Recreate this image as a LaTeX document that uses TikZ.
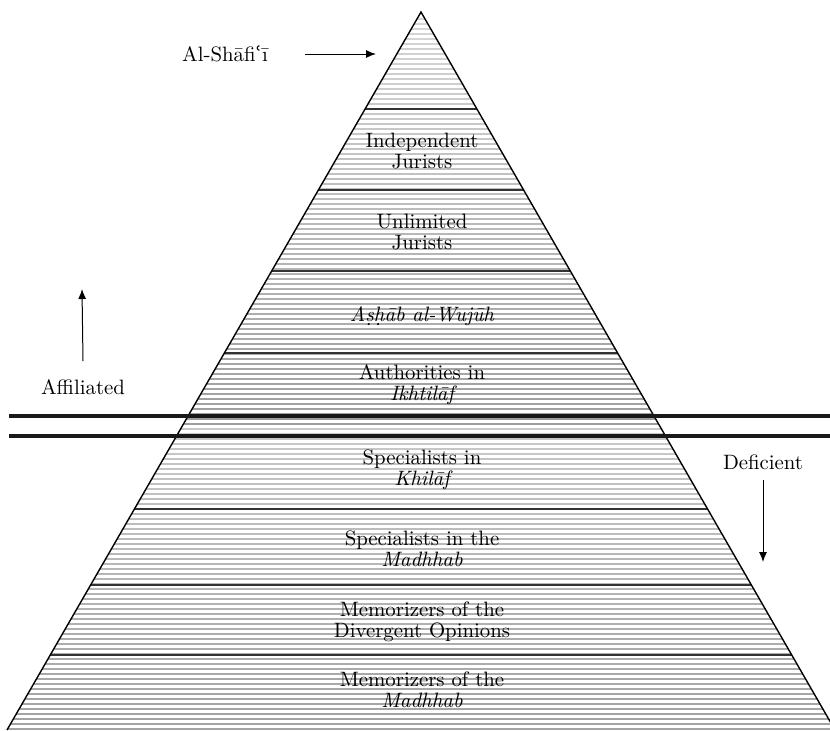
\documentclass[tikz,border=0pt]{standalone}
\usepackage{fontspec}
\newfontfamily\ainfont{DejaVu Serif}
\usetikzlibrary{arrows.meta}

\begin{document}
\begin{tikzpicture}[
			x=0.5pt, y=-0.5pt,
			rank/.style = {align=center, font=\fontsize{10.4}{10.5}\selectfont, inner sep=1pt},
			side/.style = {font=\fontsize{10.4}{12}\selectfont, inner sep=1pt},
			tier/.style = {line width=0.9pt, black!80},
			divide/.style = {line width=2pt, black!90},
			arr/.style = {-{Latex[length=5pt,width=4pt]}, line width=0.5pt}
		]
		\useasboundingbox (0,0) rectangle (830,730);
		\coordinate (apex) at (421,12);
		\coordinate (bl) at (7,730);
		\coordinate (br) at (835,730);
		% stripes and tiers
		\begin{scope}
			\clip (apex) -- (bl) -- (br) -- cycle;
			\foreach \y in {14,19,...,734} {
				\pgfmathtruncatemacro\shade{\y<426 ? 16+(\y-12)/404*22 : 22+(\y-436)/294*15}
				\draw[black!\shade, line width=1.2pt] (0,\y) -- (840,\y);
			}
			\foreach \y in {109,190,271,353,509,585,655}
				\draw[tier] (0,\y) -- (840,\y);
		\end{scope}
		\draw[line width=0.7pt] (bl) -- (apex) -- (br);
		\draw[divide] (9,416) -- (830,416);
		\draw[divide] (9,436) -- (830,436);
		% ranks
		\node[rank] (indep) at (422,151) {Independent\\Jurists};
		\node[rank] (unlim) at (422,232) {Unlimited\\Jurists};
		\node[rank] (ashab) at (422,316) {\itshape Aṣḥāb al-Wujūh};
		\node[rank] (ikht) at (422,385) {Authorities in\\\itshape Ikhtilāf};
		\node[rank] (khilaf) at (422,470) {Specialists in\\\itshape Khilāf};
		\node[rank] (madh) at (422,549) {Specialists in the\\\itshape Madhhab};
		\node[rank] (diverg) at (422,622) {Memorizers of the\\Divergent Opinions};
		\node[rank] (memo) at (422,690) {Memorizers of the\\\itshape Madhhab};
		% side labels
		\node[side] (shafii) at (225,54) {Al-Shāfi{\ainfont ʿ}ī};
		\coordinate (top) at (376,54);
		\draw[arr] (shafii.east) ++(35,0) -- (top);
		\node[side] (affil) at (83,387) {Affiliated};
		\coordinate (up) at (82,289);
		\draw[arr] ([yshift=8pt]affil.north) -- (up);
		\node[side] (defic) at (763,462) {Deficient};
		\coordinate (down) at (763,562);
		\draw[arr] ([yshift=-4pt]defic.south) -- (down);
	\end{tikzpicture}
\end{document}
